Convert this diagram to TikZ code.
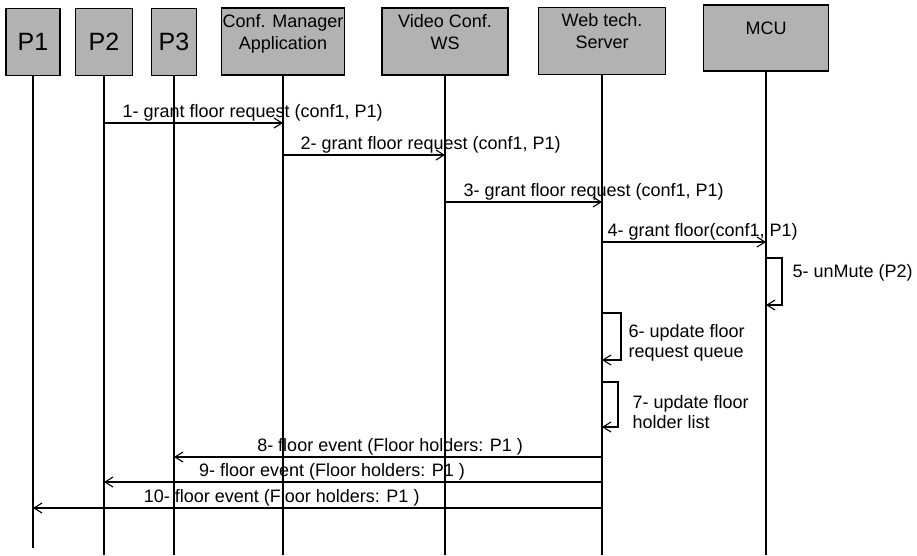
\documentclass[tikz,border=0pt]{standalone}
\usepackage{fontspec}
\setmainfont{Liberation Sans}
\usetikzlibrary{arrows.meta,positioning}

\begin{document}
\begin{tikzpicture}[x=1pt,y=-1pt,line width=1.2pt,
    >={Straight Barb[length=8pt,width=10pt]},
    font=\fontsize{18}{20}\selectfont,
    box/.style={draw, fill=black!30, minimum height=67},
    user/.style={box, font=\fontsize{25}{28}\selectfont},
    boxtext/.style={align=center, inner sep=1pt, font=\fontsize{18}{22}\selectfont},
    life/.style={line width=1.3pt},
    msg/.style={->, line width=1.1pt},
    note/.style={anchor=west, align=left, inner sep=1pt}]
  \useasboundingbox (0,0) rectangle (917,555);

  % participants
  \node (P1) [user, minimum width=54] at (33,42) {P1};
  \node (P2) [user, minimum width=57] at (104,42) {P2};
  \node (P3) [user, minimum width=45] at (174,42) {P3};
  \node (CM) [box, minimum width=123] at (283,41.5) {};
  \node (VC) [box, minimum width=126] at (445,41.5) {};
  \node (WT) [box, minimum width=127] at (602,41) {};
  \node (MCU) [box, minimum width=125, minimum height=66] at (766,38) {};
  \node (CMtext) [boxtext, below=5.5pt of CM.north] {Conf. Manager\\Application};
  \node (VCtext) [boxtext, below=5.5pt of VC.north] {Video Conf.\\WS};
  \node (WTtext) [boxtext, below=4.5pt of WT.north] {Web tech.\\Server};
  \node (MCUtext) [boxtext, below=15.5pt of MCU.north] {MCU};

  % lifelines
  \foreach \p in {P2,P3,CM,VC,WT,MCU}
    \draw[life] (\p) -- (\p |- 0,555);
  \draw[life] (P1) -- (P1 |- 0,548);

  % requests
  \draw[msg] (P2 |- 0,123) -- node[above right, at start, inner sep=1pt, xshift=17pt] {1- grant floor request (conf1, P1)} (CM |- 0,123);
  \draw[msg] (CM |- 0,155) -- node[above right, at start, inner sep=1pt, xshift=16pt] {2- grant floor request (conf1, P1)} (VC |- 0,155);
  \draw[msg] (VC |- 0,202) -- node[above right, at start, inner sep=1pt, xshift=17pt] {3- grant floor request (conf1, P1)} (WT |- 0,202);
  \draw[msg] (WT |- 0,242) -- node[above right, at start, inner sep=1pt, xshift=4pt] {4- grant floor(conf1, P1)} (MCU |- 0,242);

  % self messages
  \draw[msg] (MCU |- 0,258) -- ++(16,0) |- (MCU |- 0,305);
  \node (unmute) [note] at (791,273) {5- unMute (P2)};
  \draw[msg] (WT |- 0,313) -- ++(19,0) |- (WT |- 0,360);
  \node (queue) [note] at (627,343) {6- update floor\\request queue};
  \draw[msg] (WT |- 0,382) -- ++(16,0) |- (WT |- 0,427);
  \node (holders) [note] at (631,412) {7- update floor\\holder list};

  % floor events
  \draw[msg] (WT |- 0,457) -- node[above, pos=0.495, inner sep=1pt] {8- floor event (Floor holders: P1 )} (P3 |- 0,457);
  \draw[msg] (WT |- 0,482) -- node[above, pos=0.542, inner sep=1pt] {9- floor event (Floor holders: P1 )} (P2 |- 0,482);
  \draw[msg] (WT |- 0,508) -- node[above, pos=0.563, inner sep=1pt] {10- floor event (Floor holders: P1 )} (P1 |- 0,508);
\end{tikzpicture}
\end{document}
